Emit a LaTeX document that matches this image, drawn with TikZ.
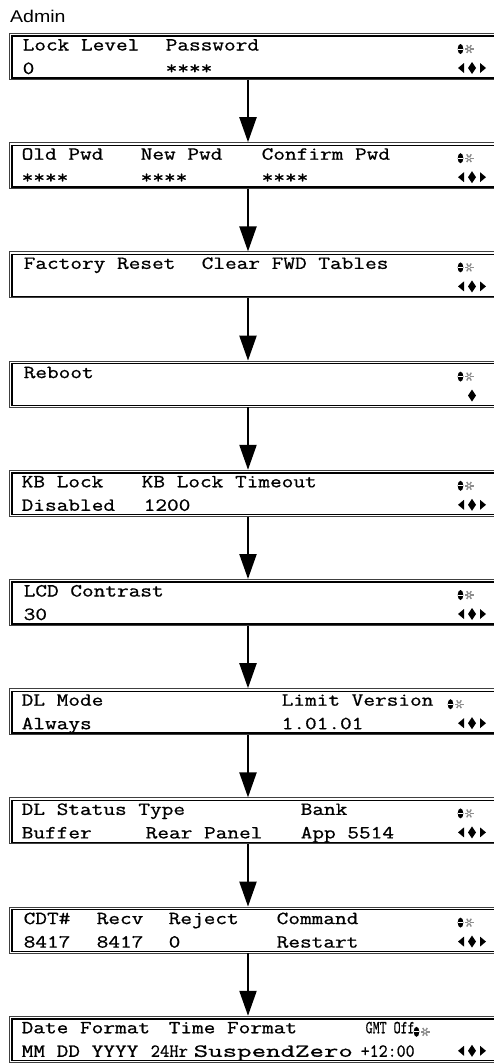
\documentclass[tikz,border=0pt]{standalone}
\usepackage{fontspec}
\setmainfont{Liberation Sans}
\newfontfamily\lcdfont{Latin Modern Mono}[FakeStretch=1.225, FakeBold=0.8]
\usetikzlibrary{arrows.meta}
\newcommand\lineA{17.5}
\newcommand\lineB{41}
\newcommand\lcdt[5]{\node[txt] (#1) at ([shift={({#3-10.5},#4)}]#2.north west) {#5};}
\tikzset{
  lcd/.style={draw=black!75, line width=0.8pt, minimum width=500pt, minimum height=46pt, inner sep=0pt, anchor=north west},
  txt/.style={font=\lcdfont\fontsize{18.5pt}{20pt}\selectfont, inner sep=0pt, anchor=base west},
  flow/.style={line width=2.2pt, -{Triangle[length=25pt,width=17pt]}},
  keyicon/.pic={
    \fill[black] (-4.5,0) ellipse (2.8 and 5);
    \draw[white, line width=0.7pt] (-7,0) -- (-2,0);
    \foreach \a in {0,60,120} \draw[black!45, line width=1.4pt] (4,0) ++(\a:4.5) -- ++(\a+180:9);
    \fill[white] (4,0) circle (1.1);
  },
  navicon/.pic={
    \fill[black] (-14,0) -- (-8,-5) -- (-8,5) -- cycle;
    \fill[black] (0,-6) -- (4,0) -- (0,6) -- (-4,0) -- cycle;
    \fill[black] (14,0) -- (8,-5) -- (8,5) -- cycle;
  },
  diaicon/.pic={
    \fill[black] (0,-6) -- (4,0) -- (0,6) -- (-4,0) -- cycle;
  }
}
\begin{document}
\begin{tikzpicture}[x=1pt,y=-1pt]
\useasboundingbox (0,0) rectangle (493,1063);
\fill[white] (0,0) rectangle (493,1063);
\node[font=\fontsize{17pt}{17pt}\selectfont, inner sep=0pt, anchor=base west] (title) at (10,22) {\scalebox{1.15}[1]{Admin}};
\foreach \i in {0,...,9} {
  \pgfmathsetmacro\t{33+109.2*\i}
  \node[lcd] (b\i) at (9,\t) {};
  \draw[line width=1.4pt] ([shift={(3,3)}]b\i.north west) rectangle ([shift={(-3,-2)}]b\i.south east);
}
\coordinate (ax) at (248,0);
\foreach \i [evaluate=\i as \j using int(\i+1)] in {0,...,8}
  \draw[flow] (b\i.south -| ax) -- (b\j.north -| ax);
% icons
\foreach \i in {0,1,2,3,4,5,7,8}
  \pic at ([shift={(456,16)}]b\i.north west) {keyicon};
\pic at ([shift={(446,16)}]b6.north west) {keyicon};
\pic at ([shift={(412,16)}]b9.north west) {keyicon};
\foreach \i in {0,1,2,4,5,6,7,8,9}
  \pic at ([shift={(463,35)}]b\i.north west) {navicon};
\pic at ([shift={(463,35)}]b3.north west) {diaicon};
% texts
\lcdt{t0a}{b0}{24}{\lineA}{Lock Level}
\lcdt{t0b}{b0}{167}{\lineA}{Password}
\lcdt{t0c}{b0}{24}{\lineB}{0}
\lcdt{t0d}{b0}{167}{\lineB}{****}
\lcdt{t1a}{b1}{23}{\lineA}{Old Pwd}
\lcdt{t1b}{b1}{142}{\lineA}{New Pwd}
\lcdt{t1c}{b1}{263}{\lineA}{Confirm Pwd}
\lcdt{t1d}{b1}{23}{\lineB}{****}
\lcdt{t1e}{b1}{142}{\lineB}{****}
\lcdt{t1f}{b1}{263}{\lineB}{****}
\lcdt{t2a}{b2}{25}{\lineA}{Factory Reset}
\lcdt{t2b}{b2}{203}{\lineA}{Clear FWD Tables}
\lcdt{t3a}{b3}{25}{\lineA}{Reboot}
\lcdt{t4a}{b4}{23}{\lineA}{KB Lock}
\lcdt{t4b}{b4}{143}{\lineA}{KB Lock Timeout}
\lcdt{t4c}{b4}{23}{\lineB}{Disabled}
\lcdt{t4d}{b4}{145}{\lineB}{1200}
\lcdt{t5a}{b5}{25}{\lineA}{LCD Contrast}
\lcdt{t5b}{b5}{25}{\lineB}{30}
\lcdt{t6a}{b6}{23}{\lineA}{DL Mode}
\lcdt{t6b}{b6}{283}{\lineA}{Limit Version}
\lcdt{t6c}{b6}{23}{\lineB}{Always}
\lcdt{t6d}{b6}{283}{\lineB}{1.01.01}
\lcdt{t7a}{b7}{23}{\lineA}{DL Status Type}
\lcdt{t7b}{b7}{302}{\lineA}{Bank}
\lcdt{t7c}{b7}{23}{\lineB}{Buffer}
\lcdt{t7d}{b7}{147}{\lineB}{Rear Panel}
\lcdt{t7e}{b7}{302}{\lineB}{App 5514}
\lcdt{t8a}{b8}{25}{\lineA}{CDT\#}
\lcdt{t8b}{b8}{98}{\lineA}{Recv}
\lcdt{t8c}{b8}{170}{\lineA}{Reject}
\lcdt{t8d}{b8}{278}{\lineA}{Command}
\lcdt{t8e}{b8}{25}{\lineB}{8417}
\lcdt{t8f}{b8}{98}{\lineB}{8417}
\lcdt{t8g}{b8}{170}{\lineB}{0}
\lcdt{t8h}{b8}{278}{\lineB}{Restart}
\lcdt{t9a}{b9}{23}{\lineA}{Date Format}
\lcdt{t9b}{b9}{170}{\lineA}{Time Format}
\lcdt{t9c}{b9}{367}{\lineA}{\scalebox{0.6}[1]{GMT Off}}
\lcdt{t9d}{b9}{23}{\lineB}{MM DD YYYY}
\lcdt{t9e}{b9}{152}{\lineB}{\scalebox{0.8}[1]{24Hr}}
\lcdt{t9f}{b9}{195}{\lineB}{\scalebox{1.24}[1]{SuspendZero}}
\lcdt{t9g}{b9}{362}{\lineB}{\scalebox{0.77}[1]{+12:00}}
\end{tikzpicture}
\end{document}
